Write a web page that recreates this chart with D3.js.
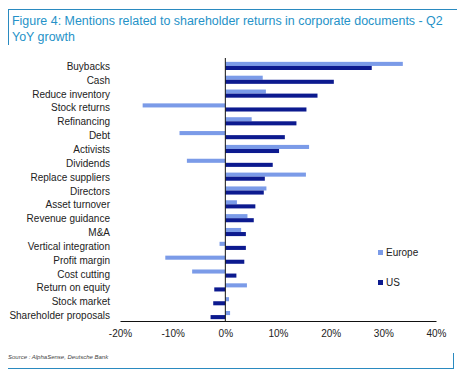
<!DOCTYPE html>
<html>
<head>
<meta charset="utf-8">
<script src="https://cdn.jsdelivr.net/npm/d3@7"></script>
<style>
  body { margin: 0; background: #fff; }
  svg { display: block; font-family: "Liberation Sans", Arial, sans-serif; }
</style>
</head>
<body>
<div id="chart"></div>
<script>
const categories = ["Buybacks", "Cash", "Reduce inventory", "Stock returns", "Refinancing", "Debt",
  "Activists", "Dividends", "Replace suppliers", "Directors", "Asset turnover", "Revenue guidance",
  "M&A", "Vertical integration", "Profit margin", "Cost cutting", "Return on equity",
  "Stock market", "Shareholder proposals"];
const seriesNames = ["Europe", "US"];
const europe = [33.7, 7.1, 7.7, -15.7, 5.0, -8.7, 15.9, -7.3, 15.3, 7.8, 2.2, 4.2, 3.0, -1.1, -11.4, -6.3, 4.1, 0.7, 0.9];
const us = [27.8, 20.6, 17.5, 15.4, 13.5, 11.3, 10.2, 9.0, 7.5, 7.3, 5.7, 5.4, 3.9, 3.9, 3.6, 2.1, -2.1, -2.3, -2.8];
const xTicks = [-20, -10, 0, 10, 20, 30, 40];

const W = 468, H = 376;
const colors = { Europe: "#7b9be8", US: "#0c1a8f" };

const svg = d3.select("#chart").append("svg")
    .attr("width", W)
    .attr("height", H);

// frame lines
svg.append("line").attr("x1", 8).attr("x2", 457).attr("y1", 9.5).attr("y2", 9.5)
    .style("stroke", "#2a8ac0").style("stroke-width", 1.2);
svg.append("line").attr("x1", 8.5).attr("x2", 8.5).attr("y1", 9).attr("y2", 45)
    .style("stroke", "#2a8ac0").style("stroke-width", 1);
svg.append("line").attr("x1", 8).attr("x2", 454).attr("y1", 368.5).attr("y2", 368.5)
    .style("stroke", "#2a8ac0").style("stroke-width", 1.2);
svg.append("line").attr("x1", 453.5).attr("x2", 453.5).attr("y1", 353).attr("y2", 369)
    .style("stroke", "#2a8ac0").style("stroke-width", 1);

// title
const title = svg.append("text")
    .style("font-size", "12.45px")
    .style("fill", "#2592c8");
title.append("tspan").attr("x", 12).attr("y", 25)
    .text("Figure 4: Mentions related to shareholder returns in corporate documents - Q2");
title.append("tspan").attr("x", 12).attr("y", 41).text("YoY growth");

const xScale = d3.scaleLinear()
    .domain([-20, 40])
    .range([120, 436]);

const yScale = d3.scaleBand()
    .domain(categories)
    .range([59, 322]);

const subScale = d3.scaleBand()
    .domain(seriesNames)
    .range([0, yScale.bandwidth()])
    .paddingOuter(0.7);

const data = categories.map((c, i) => ({ category: c, Europe: europe[i], US: us[i] }));

const groups = svg.append("g")
    .selectAll("g")
    .data(data)
    .enter().append("g")
    .attr("transform", d => "translate(0," + yScale(d.category) + ")");

groups.selectAll("rect")
    .data(d => seriesNames.map(s => ({ series: s, value: d[s] })))
    .enter().append("rect")
    .attr("x", d => xScale(Math.min(0, d.value)))
    .attr("width", d => Math.abs(xScale(d.value) - xScale(0)))
    .attr("y", d => subScale(d.series))
    .attr("height", subScale.bandwidth())
    .style("fill", d => colors[d.series]);

// category labels
svg.append("g")
    .selectAll("text")
    .data(categories)
    .enter().append("text")
    .attr("x", 110)
    .attr("y", d => yScale(d) + yScale.bandwidth() / 2 + 0.5)
    .attr("dy", "0.35em")
    .attr("text-anchor", "end")
    .style("font-size", "10px")
    .style("fill", "#222")
    .text(d => d);

// zero line
svg.append("line")
    .attr("x1", xScale(0)).attr("x2", xScale(0))
    .attr("y1", 58).attr("y2", 321)
    .style("stroke", "#111").style("stroke-width", 1);

// x axis
const xAxis = svg.append("g")
    .attr("transform", "translate(0,321)")
    .call(d3.axisBottom(xScale).tickValues(xTicks).tickSize(0).tickPadding(9).tickFormat(d => d + "%"));
xAxis.select(".domain").style("stroke", "#111").style("stroke-width", 1.2);
xAxis.selectAll("text")
    .style("font-size", "10px")
    .style("fill", "#222")
    .style("font-family", "\"Liberation Sans\", Arial, sans-serif");

// legend
const legend = svg.append("g")
    .selectAll("g")
    .data(seriesNames)
    .enter().append("g")
    .attr("transform", (d, i) => "translate(378," + (250 + i * 30) + ")");
legend.append("rect")
    .attr("width", 5).attr("height", 5)
    .style("fill", d => colors[d]);
legend.append("text")
    .attr("x", 8).attr("y", 2.5).attr("dy", "0.35em")
    .style("font-size", "10px")
    .style("fill", "#222")
    .text(d => d);

// source
svg.append("text")
    .attr("x", 8).attr("y", 359)
    .style("font-size", "6px")
    .style("font-style", "italic")
    .style("fill", "#444")
    .text("Source : AlphaSense, Deutsche Bank");
</script>
</body>
</html>
